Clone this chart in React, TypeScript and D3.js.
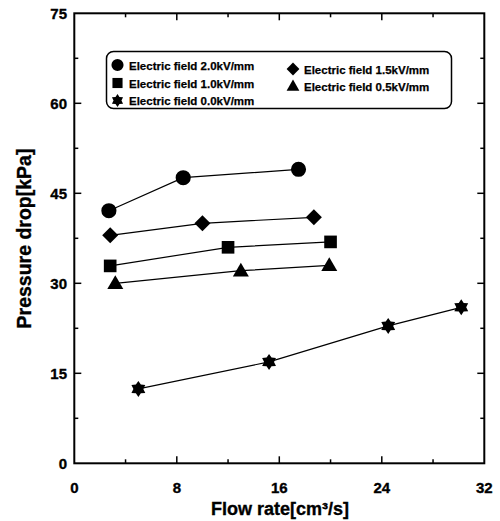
import React from "react";
import * as d3 from "d3";

const seriesNames = [
  "Electric field 2.0kV/mm",
  "Electric field 1.5kV/mm",
  "Electric field 1.0kV/mm",
  "Electric field 0.5kV/mm",
  "Electric field 0.0kV/mm",
];
const markers = ["circle", "diamond", "square", "triangle", "star"];
const flow20 = [2.7, 8.5, 17.5];
const dp20 = [42.1, 47.6, 49.0];
const flow15 = [2.8, 10.0, 18.7];
const dp15 = [38.0, 40.0, 41.0];
const flow10 = [2.8, 12.0, 20.0];
const dp10 = [32.9, 36.0, 36.9];
const flow05 = [3.2, 13.0, 19.9];
const dp05 = [30.0, 32.1, 33.0];
const flow00 = [5.0, 15.2, 24.5, 30.2];
const dp00 = [12.4, 16.9, 22.9, 26.0];
const xTicks = [0, 8, 16, 24, 32];
const yTicks = [0, 15, 30, 45, 60, 75];
const xMinor = [4, 12, 20, 28];
const yMinor = [7.5, 22.5, 37.5, 52.5, 67.5];

const W = 500, H = 521;
const L = 74.3, R = 484.3, T = 13.3, B = 463.3;
const x = d3.scaleLinear().domain([0, 32]).range([L, R]);
const y = d3.scaleLinear().domain([0, 75]).range([B, T]);

const font = "Arial, 'Liberation Sans', Helvetica, sans-serif";

function starPath(r: number) {
  const pts: [number, number][] = [];
  for (let i = 0; i < 12; i++) {
    const a = (Math.PI / 6) * i;
    const rr = i % 2 === 0 ? r : r * 0.62;
    pts.push([rr * Math.sin(a), -rr * Math.cos(a)]);
  }
  return d3.line()(pts) + "Z";
}

function Marker({ kind, cx, cy }: { kind: string; cx: number; cy: number }) {
  let d = "";
  if (kind === "circle") d = d3.symbol(d3.symbolCircle, 180)()!;
  else if (kind === "square") d = d3.symbol(d3.symbolSquare, 160)()!;
  else if (kind === "diamond") {
    const s = 8;
    d = d3.line()([[0, -s], [s, 0], [0, s], [-s, 0]]) + "Z";
  } else if (kind === "triangle") {
    d = d3.line()([[0, -8], [8, 5.8], [-8, 5.8]]) + "Z";
  } else d = starPath(8);
  return <path d={d} transform={`translate(${cx},${cy})`} fill="#000" />;
}

const data = [
  { xs: flow20, ys: dp20 },
  { xs: flow15, ys: dp15 },
  { xs: flow10, ys: dp10 },
  { xs: flow05, ys: dp05 },
  { xs: flow00, ys: dp00 },
];

export default function App() {
  const line = d3.line<[number, number]>().x((d) => x(d[0])).y((d) => y(d[1]));
  const legendPos = [
    { mx: 117.5, my: 65, tx: 129, ty: 69.5 },
    { mx: 293, my: 69, tx: 304, ty: 73.5 },
    { mx: 117.5, my: 83, tx: 129, ty: 87.5 },
    { mx: 293, my: 86, tx: 304, ty: 91 },
    { mx: 117.5, my: 100.5, tx: 129, ty: 105 },
  ];
  const txt = { fontFamily: font, fontWeight: "bold" as const, stroke: "#000", strokeWidth: 0.35 };
  return (
    <svg width={W} height={H} style={{ position: "absolute", left: 0, top: 0 }}>
      <rect width={W} height={H} fill="#fff" />
      <rect x={L} y={T} width={R - L} height={B - T} fill="none" stroke="#000" strokeWidth={2} />
      {xTicks.slice(1, -1).map((t) => (
        <g key={"xt" + t}>
          <line x1={x(t)} x2={x(t)} y1={B} y2={B - 7} stroke="#000" strokeWidth={1.5} />
          <line x1={x(t)} x2={x(t)} y1={T} y2={T + 7} stroke="#000" strokeWidth={1.5} />
        </g>
      ))}
      {xMinor.map((t) => (
        <g key={"xm" + t}>
          <line x1={x(t)} x2={x(t)} y1={B} y2={B - 4} stroke="#000" strokeWidth={1.5} />
          <line x1={x(t)} x2={x(t)} y1={T} y2={T + 4} stroke="#000" strokeWidth={1.5} />
        </g>
      ))}
      {yTicks.slice(1, -1).map((t) => (
        <g key={"yt" + t}>
          <line x1={L} x2={L + 7} y1={y(t)} y2={y(t)} stroke="#000" strokeWidth={1.5} />
          <line x1={R} x2={R - 7} y1={y(t)} y2={y(t)} stroke="#000" strokeWidth={1.5} />
        </g>
      ))}
      {yMinor.map((t) => (
        <g key={"ym" + t}>
          <line x1={L} x2={L + 4} y1={y(t)} y2={y(t)} stroke="#000" strokeWidth={1.5} />
          <line x1={R} x2={R - 4} y1={y(t)} y2={y(t)} stroke="#000" strokeWidth={1.5} />
        </g>
      ))}
      {xTicks.map((t) => (
        <text key={"xl" + t} x={x(t)} y={493} textAnchor="middle" fontSize={15} {...txt}>
          {t}
        </text>
      ))}
      {yTicks.map((t) => (
        <text key={"yl" + t} x={67} y={y(t) + 5.5} textAnchor="end" fontSize={15} {...txt}>
          {t}
        </text>
      ))}
      <text x={280} y={515} textAnchor="middle" fontSize={18} {...txt}>
        Flow rate[cm³/s]
      </text>
      <text transform={`translate(31,238.5) rotate(-90)`} textAnchor="middle" fontSize={19.5} {...txt}>
        Pressure drop[kPa]
      </text>
      {data.map((s, i) => {
        const pts = s.xs.map((v, j) => [v, s.ys[j]] as [number, number]);
        return (
          <g key={"s" + i}>
            <path d={line(pts)!} fill="none" stroke="#000" strokeWidth={1.2} />
            {pts.map((p, j) => (
              <Marker key={j} kind={markers[i]} cx={x(p[0])} cy={y(p[1])} />
            ))}
          </g>
        );
      })}
      <rect x={106.5} y={51.5} width={345} height={57} rx={7} fill="#fff" stroke="#000" strokeWidth={1.5} />
      {seriesNames.map((n, i) => (
        <g key={"lg" + i}>
          <g transform={`translate(${legendPos[i].mx},${legendPos[i].my}) scale(0.8)`}>
            <Marker kind={markers[i]} cx={0} cy={0} />
          </g>
          <text x={legendPos[i].tx} y={legendPos[i].ty} fontSize={11.5} {...txt} strokeWidth={0.25}>
            {n}
          </text>
        </g>
      ))}
    </svg>
  );
}
